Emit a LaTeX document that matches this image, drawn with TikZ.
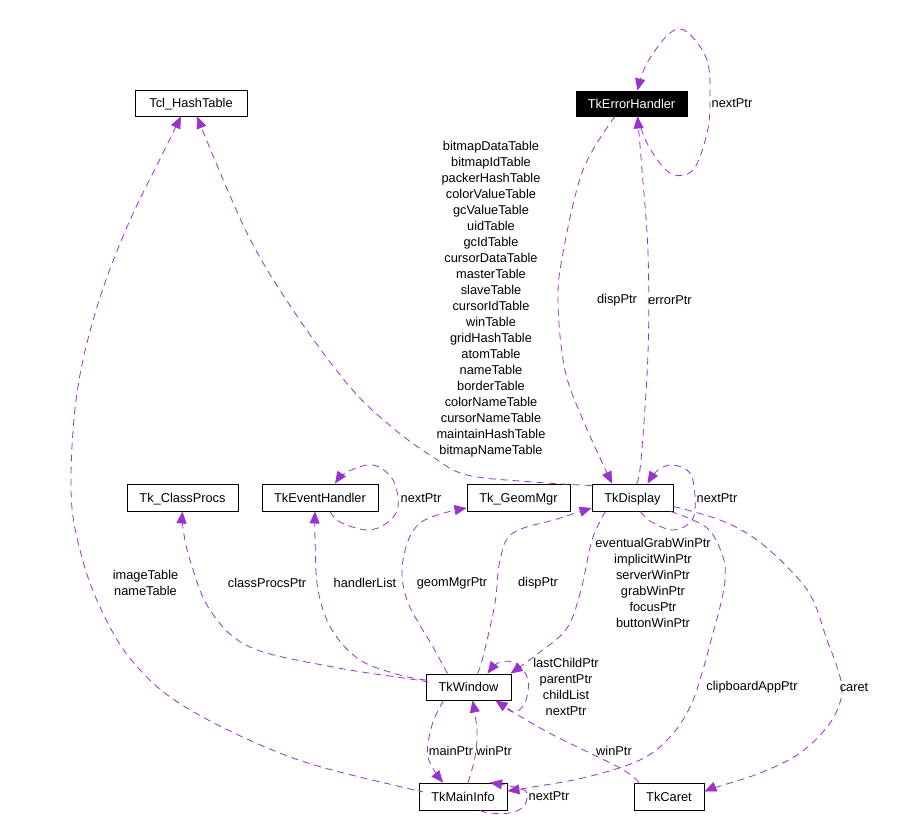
\documentclass[tikz,border=0pt]{standalone}
\usepackage{fontspec}
\setmainfont{Liberation Sans}
\usetikzlibrary{arrows.meta}
\definecolor{purp}{HTML}{9A32CD}
\begin{document}
\begin{tikzpicture}[x=1pt,y=-1pt,
  cls/.style={draw=black,line width=0.9pt,fill=white,inner sep=0pt,text height=10pt,text depth=1pt,font=\fontsize{12.8}{16}\selectfont},
  ptr/.style={draw=purp,line width=0.8pt,dash pattern=on 7pt off 5pt,-{Triangle[length=12pt,width=10pt]}},
  lbl/.style={inner sep=0pt,align=center,font=\fontsize{12.8}{16}\selectfont}]
\useasboundingbox[fill=white] (0,0) rectangle (911,823);

% classes
\node[cls,minimum width=112pt,minimum height=26pt] (tcl) at (191,103) {Tcl\_HashTable};
\node[cls,minimum width=111pt,minimum height=25pt,fill=black,text=white] (err) at (631.5,103.5) {TkErrorHandler};
\node[cls,minimum width=111pt,minimum height=27pt] (cls) at (182.5,497.5) {Tk\_ClassProcs};
\node[cls,minimum width=116pt,minimum height=27pt] (evt) at (320,497.5) {TkEventHandler};
\node[cls,minimum width=103pt,minimum height=27pt] (geo) at (518.5,497.5) {Tk\_GeomMgr};
\node[cls,minimum width=81pt,minimum height=27pt] (dsp) at (632.5,497.5) {TkDisplay};
\node[cls,minimum width=85pt,minimum height=26pt] (win) at (468.5,687) {TkWindow};
\node[cls,minimum width=88pt,minimum height=27pt] (main) at (463,796.5) {TkMainInfo};
\node[cls,minimum width=70pt,minimum height=27pt] (caret) at (669,796.5) {TkCaret};

% connectors
\draw[ptr] plot[smooth,tension=0.6] coordinates {([yshift=-2pt]dsp.north west) (533,482) (467,475) (433,457) (393,428) (350,387) (295,313) (247,233) ([xshift=6pt]tcl.south)};
\draw[ptr] plot[smooth,tension=0.6] coordinates {([yshift=6pt]main.west) (410,789) (293,758) (187,708) (133,662) (100,607) (80,550) (71,490) (77,393) (97,307) (127,227) (163,153) ([xshift=-10pt]tcl.south)};
\draw[ptr] plot[smooth,tension=0.6] coordinates {([xshift=6pt]err.south) (648,145) (670,173) (693,170) (707,133) (710,100) (707,60) (687,32) (670,33) (647,63) ([xshift=6pt]err.north)};
\draw[ptr] plot[smooth,tension=0.6] coordinates {([xshift=4pt]dsp.north) (641,460) (648,353) (648,253) (642,170) ([xshift=6pt]err.south)};
\draw[ptr] plot[smooth,tension=0.6] coordinates {([xshift=-16.5pt]err.south) (583,170) (563,253) (558,303) (565,370) (583,420) ([xshift=-20.5pt]dsp.north)};
\draw[ptr] plot[smooth,tension=0.6] coordinates {([xshift=8pt]dsp.south) (650,521) (673,530) (692,520) (695,497) (690,473) (673,465) (658,470) ([xshift=15pt]dsp.north)};
\draw[ptr] plot[smooth,tension=0.6] coordinates {([xshift=9pt]win.north) (483,657) (495,603) (500,560) (513,533) (557,519) ([yshift=-10.5pt]dsp.west)};
\draw[ptr] plot[smooth,tension=0.6] coordinates {([xshift=-27pt]dsp.south) (592,540) (581,590) (567,628) (540,652) ([xshift=42pt]win.north)};
\draw[ptr] plot[smooth,tension=0.6] coordinates {([xshift=30pt]win.south) (513,712) (525,703) (528,680) (517,664) (500,662) ([xshift=19pt]win.north)};
\draw[ptr] plot[smooth,tension=0.6] coordinates {([xshift=-30pt]caret.north) (620,768) (557,737) (523,718) ([xshift=27pt]win.south)};
\draw[ptr] plot[smooth,tension=0.6] coordinates {([yshift=5pt]win.west) (417,680) (333,667) (250,647) (210,610) (190,560) (183,528) (cls.south)};
\draw[ptr] plot[smooth,tension=0.6] coordinates {([yshift=7pt]win.west) (400,675) (360,660) (332,630) (318,590) (315,540) ([xshift=-5pt]evt.south)};
\draw[ptr] plot[smooth,tension=0.6] coordinates {([xshift=-21pt]win.north) (433,647) (407,600) (403,560) (420,523) ([yshift=-10.5pt]geo.west)};
\draw[ptr] plot[smooth,tension=0.6] coordinates {([xshift=10pt]evt.south) (340,522) (367,530) (387,523) (398,507) (393,480) (373,465) (347,472) ([xshift=15pt]evt.north)};
\draw[ptr] plot[smooth,tension=0.6] coordinates {([xshift=-25pt]win.south) (432,725) (428,757) ([xshift=-20pt]main.north)};
\draw[ptr] plot[smooth,tension=0.6] coordinates {([xshift=5pt]main.north) (475,757) (477,730) ([xshift=4pt]win.south)};
\draw[ptr] plot[smooth,tension=0.6] coordinates {([xshift=17pt]main.south) (490,813) (510,813) (523,807) (527,797) (522,789) ([xshift=27pt]main.north)};
\draw[ptr] plot[smooth,tension=0.6] coordinates {([xshift=38pt]dsp.south) (707,528) (723,557) (725,580) (720,607) (713,633) (702,673) (690,707) (670,737) (640,760) (587,777) (533,787) ([yshift=5.5pt]main.east)};
\draw[ptr] plot[smooth,tension=0.6] coordinates {([yshift=-9pt]dsp.east) (720,520) (757,540) (793,573) (813,600) (827,640) (837,667) (842,693) (830,723) (800,753) (760,773) (717,787) ([yshift=5pt]caret.east)};

% labels
\node[lbl] (ltables) at (491,299) {bitmapDataTable\\bitmapIdTable\\packerHashTable\\colorValueTable\\gcValueTable\\uidTable\\gcIdTable\\cursorDataTable\\masterTable\\slaveTable\\cursorIdTable\\winTable\\gridHashTable\\atomTable\\nameTable\\borderTable\\colorNameTable\\cursorNameTable\\maintainHashTable\\bitmapNameTable};
\node[lbl] (limg) at (145.5,582.5) {imageTable\\nameTable};
\node[lbl] (lerrnext) at (732,103) {nextPtr};
\node[lbl] (lerrptr) at (670,300) {errorPtr};
\node[lbl] (ldisp1) at (617,300) {dispPtr};
\node[lbl] (ldspnext) at (717,498) {nextPtr};
\node[lbl] (ldisp2) at (538,583) {dispPtr};
\node[lbl] (lgrab) at (653,582.5) {eventualGrabWinPtr\\implicitWinPtr\\serverWinPtr\\grabWinPtr\\focusPtr\\buttonWinPtr};
\node[lbl] (lchild) at (566,687) {lastChildPtr\\parentPtr\\childList\\nextPtr};
\node[lbl] (lcls) at (267,583) {classProcsPtr};
\node[lbl] (lhandler) at (365,583) {handlerList};
\node[lbl] (lgeom) at (452,583) {geomMgrPtr};
\node[lbl] (levtnext) at (421,498) {nextPtr};
\node[lbl] (lmain) at (451,751) {mainPtr};
\node[lbl] (lwin) at (494,751) {winPtr};
\node[lbl] (lcaretwin) at (614,751) {winPtr};
\node[lbl] (lmainnext) at (549,796) {nextPtr};
\node[lbl] (lclip) at (752,687) {clipboardAppPtr};
\node[lbl] (lcaret) at (854,687) {caret};
\end{tikzpicture}
\end{document}
